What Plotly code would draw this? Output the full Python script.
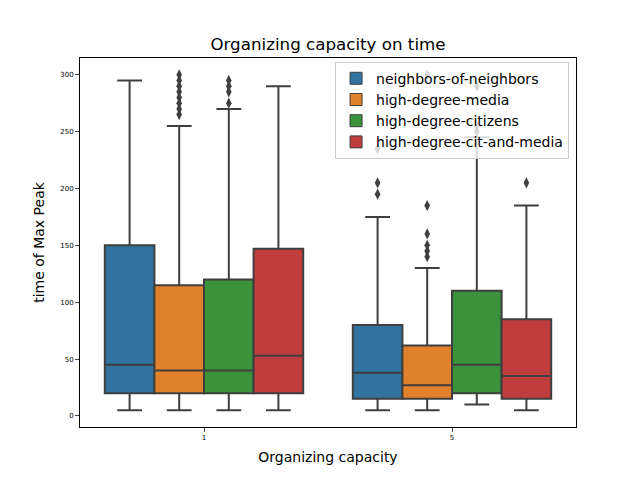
import plotly.graph_objects as go

categories = ["1", "5"]
hues = ["neighbors-of-neighbors", "high-degree-media", "high-degree-citizens", "high-degree-cit-and-media"]
colors = ["#3274a1", "#e1812c", "#3a923a", "#c03d3e"]

# stats per hue: [category "1", category "5"]
q1 = [[20, 15], [20, 15], [20, 20], [20, 15]]
median = [[45, 38], [40, 27], [40, 45], [53, 35]]
q3 = [[150, 80], [115, 62], [120, 110], [147, 85]]
lowerfence = [[5, 5], [5, 5], [5, 10], [5, 5]]
upperfence = [[295, 175], [255, 130], [270, 245], [290, 185]]
outliers = [
    [[], [195, 205, 235]],
    [[265, 270, 275, 280, 285, 290, 295, 300], [140, 145, 150, 160, 185, 300]],
    [[275, 285, 290, 295], [250, 255, 290]],
    [[], [205]],
]

line_col = "#3f3f3f"
n = len(hues)
w = 0.8 / n

fig = go.Figure()
for i, h in enumerate(hues):
    off = -0.4 + w * (i + 0.5)
    xs = [c + off for c in range(len(categories))]
    fig.add_trace(go.Box(
        x=xs, q1=q1[i], median=median[i], q3=q3[i],
        lowerfence=lowerfence[i], upperfence=upperfence[i],
        width=w, whiskerwidth=0.5, boxpoints=False,
        fillcolor=colors[i], line=dict(color=line_col, width=2),
        name=h, showlegend=False, hoverinfo="skip",
    ))
    ox, oy = [], []
    for c in range(len(categories)):
        for v in outliers[i][c]:
            ox.append(c + off)
            oy.append(v)
    fig.add_trace(go.Scatter(
        x=ox, y=oy, mode="markers",
        marker=dict(symbol="diamond-tall", size=8, color=line_col),
        showlegend=False, hoverinfo="skip",
    ))

for i, h in enumerate(hues):
    fig.add_trace(go.Bar(
        x=[None], y=[None], name=h,
        marker=dict(color=colors[i], line=dict(color=line_col, width=1)),
    ))

W, H = 632, 472
fig.update_layout(
    width=W, height=H,
    margin=dict(l=72, r=64, t=50, b=53),
    paper_bgcolor="white", plot_bgcolor="white",
    font=dict(family="DejaVu Sans", color="black"),
    title=dict(text="Organizing capacity on time", x=320 / W, xanchor="center",
               y=1 - 36 / H, yanchor="middle", font=dict(size=16.7)),
    showlegend=True,
    legend=dict(x=0.986, y=0.99, xanchor="right", yanchor="top",
                bgcolor="rgba(255,255,255,0.8)", bordercolor="#cccccc", borderwidth=1,
                font=dict(size=14), tracegroupgap=0, itemwidth=30),
    boxmode="overlay",
)
fig.update_xaxes(
    range=[-0.5, 1.5], tickmode="array", tickvals=list(range(len(categories))),
    ticktext=categories, tickfont=dict(size=7), ticks="outside", ticklen=4,
    showline=True, linecolor="black", linewidth=1, mirror=True, showgrid=False,
    zeroline=False,
    title=dict(text="Organizing capacity", font=dict(size=14), standoff=10),
)
fig.update_yaxes(
    range=[-9.75, 314.75], tickvals=[0, 50, 100, 150, 200, 250, 300],
    tickfont=dict(size=7), ticks="outside", ticklen=4,
    showline=True, linecolor="black", linewidth=1, mirror=True, showgrid=False,
    zeroline=False,
    title=dict(text="time of Max Peak", font=dict(size=14), standoff=12),
)

fig.write_html("out.html")
